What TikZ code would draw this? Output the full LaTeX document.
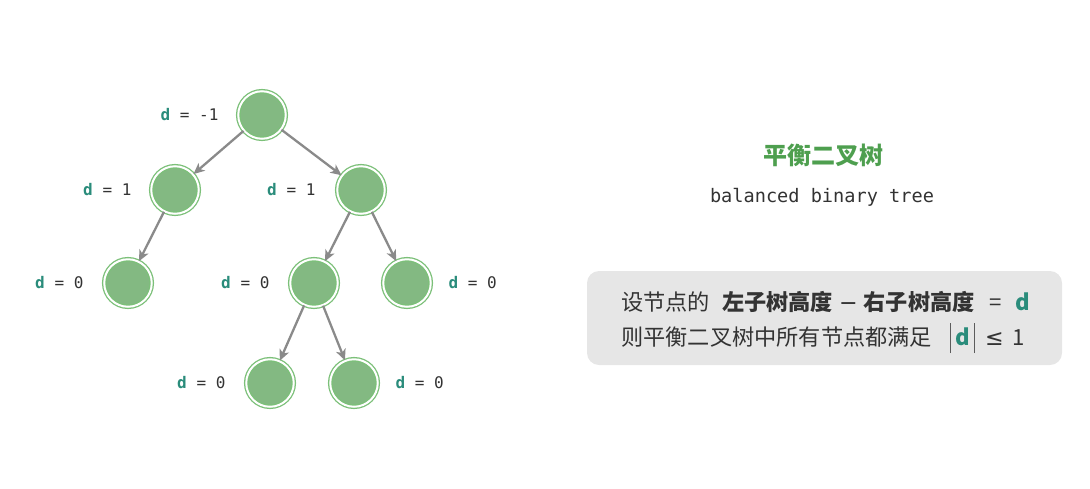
\documentclass[tikz,border=0pt]{standalone}
\usepackage{fontspec}
\setmainfont{Noto Sans CJK SC}
\setmonofont{DejaVu Sans Mono}
\newfontfamily\symfont{DejaVu Sans}
\usepackage{tikz}
\usetikzlibrary{arrows.meta, positioning}

\definecolor{nodegreen}{HTML}{83B982}
\definecolor{ringgreen}{HTML}{7CC079}
\definecolor{dteal}{HTML}{2A8C7B}
\definecolor{titlegreen}{HTML}{4E9F4F}
\definecolor{edgegray}{HTML}{8A8A8A}
\definecolor{boxgray}{HTML}{E6E6E6}
\definecolor{txtgray}{HTML}{333333}

\tikzset{
    treenode/.style={circle, minimum size=47.5pt, inner sep=0pt, fill=nodegreen,
        draw=ringgreen, line width=1.3pt, double=white, double distance=2pt},
    dlabel/.style={inner sep=0pt, font=\ttfamily\fontsize{16}{16}\selectfont, text=txtgray},
    edge/.style={-{Stealth[length=11pt, width=10pt, inset=3pt]}, edgegray, line width=2.3pt},
    boxtext/.style={anchor=west, inner sep=0pt, font=\fontsize{22.2}{22.2}\selectfont, text=txtgray},
}
\newcommand{\dval}[1]{\textcolor{dteal}{\textbf{d}} = #1}
\newcommand{\absbar}{\textcolor{txtgray!80}{\rule[-8pt]{1.3pt}{30pt}}}

\begin{document}
\begin{tikzpicture}[x=1pt, y=-1pt]
    \useasboundingbox (0,0) rectangle (1090,488);
    % tree
    \node[treenode] (root) at (262,115) {};
    \node[treenode] (l)    at (175,190) {};
    \node[treenode] (r)    at (361,190) {};
    \node[treenode] (ll)   at (128,283) {};
    \node[treenode] (rl)   at (314,283) {};
    \node[treenode] (rr)   at (407,283) {};
    \node[treenode] (rll)  at (270,383) {};
    \node[treenode] (rlr)  at (354,383) {};
    \draw[edge] (root) -- (l);
    \draw[edge] (root) -- (r);
    \draw[edge] (l) -- (ll);
    \draw[edge] (r) -- (rl);
    \draw[edge] (r) -- (rr);
    \draw[edge] (rl) -- (rll);
    \draw[edge] (rl) -- (rlr);
    % balance factors
    \node[dlabel, left=19pt of root] (droot) {\dval{-1}};
    \node[dlabel, left=19pt of l] (dl) {\dval{1}};
    \node[dlabel, left=21pt of r] (dr) {\dval{1}};
    \node[dlabel, left=20pt of ll] (dll) {\dval{0}};
    \node[dlabel, left=20pt of rl] (drl) {\dval{0}};
    \node[dlabel, right=17pt of rr] (drr) {\dval{0}};
    \node[dlabel, left=20pt of rll] (drll) {\dval{0}};
    \node[dlabel, right=17pt of rlr] (drlr) {\dval{0}};
    % title
    \node[font=\fontsize{24}{24}\selectfont\bfseries, text=titlegreen] (title) at (823,155) {平衡二叉树};
    \node[font=\ttfamily\fontsize{18.6}{18.6}\selectfont, text=txtgray] (subtitle) at (822,197) {balanced binary tree};
    % note box
    \fill[boxgray, rounded corners=12pt] (587,271) rectangle (1062,365);
    \node[boxtext] (line1) at (621,302)
        {设节点的\hspace{12pt}\textbf{左子树高度}\hspace{6pt}{\symfont −}\hspace{6pt}\textbf{右子树高度}\hspace{15pt}=\hspace{14pt}\textcolor{dteal}{\textbf{d}}};
    \node[boxtext] (line2) at (621,338)
        {则平衡二叉树中所有节点都满足\hspace{18pt}\absbar\hspace{4pt}\textcolor{dteal}{\textbf{d}}\hspace{4pt}\absbar\hspace{10pt}{\symfont ≤}\hspace{9pt}1};
\end{tikzpicture}
\end{document}
